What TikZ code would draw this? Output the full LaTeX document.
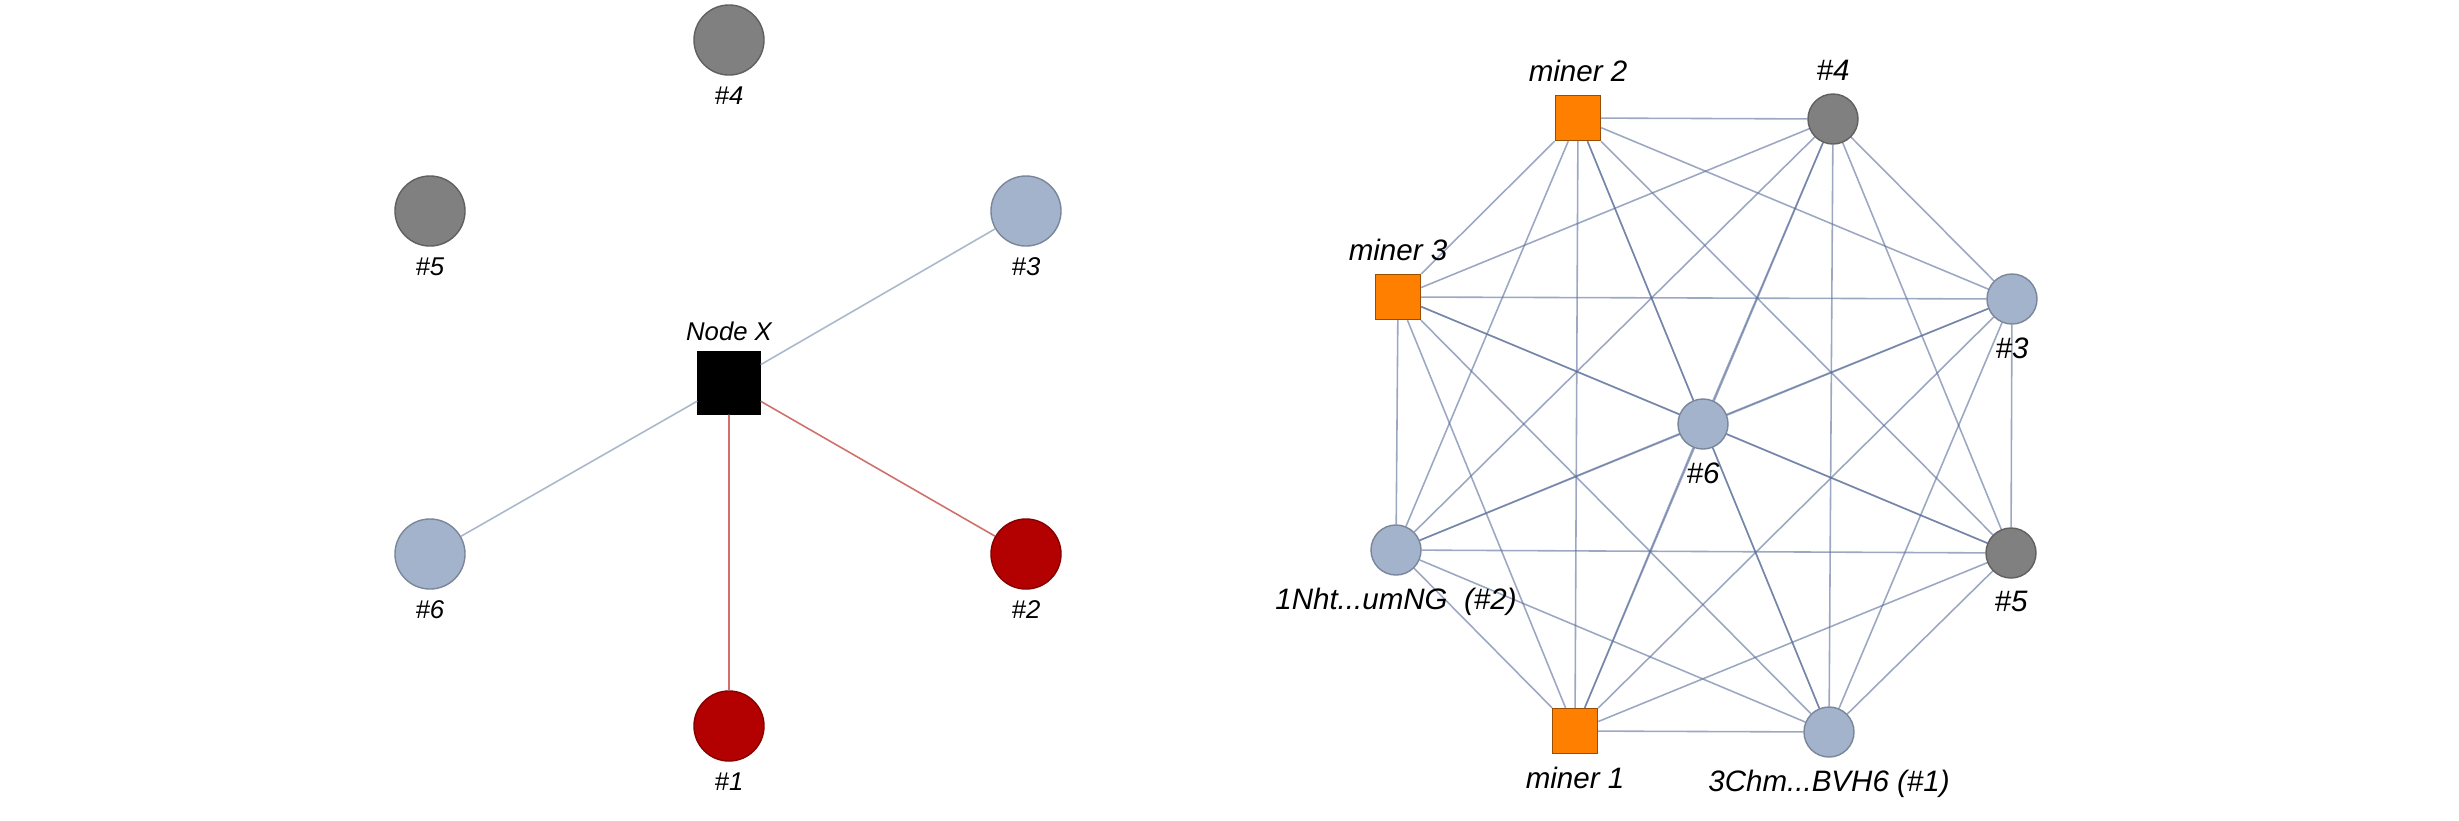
\documentclass[tikz,border=0pt]{standalone}
\usepackage{fontspec}
\setmainfont{Liberation Sans}
\usetikzlibrary{backgrounds}
\definecolor{peergray}{HTML}{808080}
\definecolor{peerblue}{HTML}{A3B3CC}
\definecolor{peerred}{HTML}{B30000}
\definecolor{minerorange}{HTML}{FF8000}
\definecolor{linkblue}{HTML}{AAB8CC}
\definecolor{linkred}{HTML}{D0706B}
\definecolor{meshblue}{HTML}{5A6E9A}
\begin{document}
\begin{tikzpicture}[x=0.01cm, y=-0.01cm,
    peer/.style={circle, draw=#1!75!black, fill=#1, line width=0.4pt, inner sep=0pt},
    bigpeer/.style={peer=#1, minimum size=0.7cm},
    smallpeer/.style={peer=#1, minimum size=0.5cm},
    nodex/.style={rectangle, fill=black, draw=black, minimum size=0.62cm, inner sep=0pt},
    miner/.style={rectangle, fill=minerorange, draw=minerorange!60!black, line width=0.4pt, minimum size=0.45cm, inner sep=0pt},
    lname/.style={font=\itshape\fontsize{7.3}{8}\selectfont, inner sep=0pt, label distance=0.1cm},
    rname/.style={font=\itshape\fontsize{8.4}{9}\selectfont, inner sep=0pt, label distance=0.12cm},
    weak/.style={draw=linkblue, line width=0.45pt},
    hot/.style={draw=linkred, line width=0.45pt},
    mesh/.style={draw=meshblue, opacity=0.6, line width=0.45pt}]
  \useasboundingbox (0,0) rectangle (2459,820);
  % view of node X
  \node[bigpeer=peergray, label={[lname]below:\#4}] (l4) at (729,40) {};
  \node[bigpeer=peergray, label={[lname]below:\#5}] (l5) at (430,211) {};
  \node[bigpeer=peerblue, label={[lname]below:\#3}] (l3) at (1026,211) {};
  \node[nodex, label={[lname]above:Node X}] (x) at (729,383) {};
  \node[bigpeer=peerblue, label={[lname]below:\#6}] (l6) at (430,554) {};
  \node[bigpeer=peerred, label={[lname]below:\#2}] (l2) at (1026,554) {};
  \node[bigpeer=peerred, label={[lname]below:\#1}] (l1) at (729,726) {};
  \draw[weak] (x) -- (l3) (x) -- (l6);
  \draw[hot] (x) -- (l2) (x) -- (l1);
  % full mesh
  \node[miner, label={[rname]above:miner 2}] (m2) at (1578,118) {};
  \node[smallpeer=peergray, label={[rname]above:\#4}] (p4) at (1833,119) {};
  \node[miner, label={[rname]above:miner 3}] (m3) at (1398,297) {};
  \node[smallpeer=peerblue, label={[rname]below:\#3}] (p3) at (2012,299) {};
  \node[smallpeer=peerblue, label={[rname]below:\#6}] (p6) at (1703,424) {};
  \node[smallpeer=peerblue, label={[rname]below:1Nht...umNG\ \ (\#2)}] (p2) at (1396,550) {};
  \node[smallpeer=peergray, label={[rname]below:\#5}] (p5) at (2011,553) {};
  \node[miner, label={[rname]below:miner 1}] (m1) at (1575,731) {};
  \node[smallpeer=peerblue, label={[rname]below:3Chm...BVH6 (\#1)}] (p1) at (1829,732) {};
  \begin{scope}[on background layer]
    \foreach \a [count=\i] in {m2,p4,p3,p5,p1,m1,p2,m3,p6}
      \foreach \b [count=\j] in {m2,p4,p3,p5,p1,m1,p2,m3,p6}
        {\ifnum\j>\i \draw[mesh] (\a) -- (\b); \fi}
  \end{scope}
\end{tikzpicture}
\end{document}
